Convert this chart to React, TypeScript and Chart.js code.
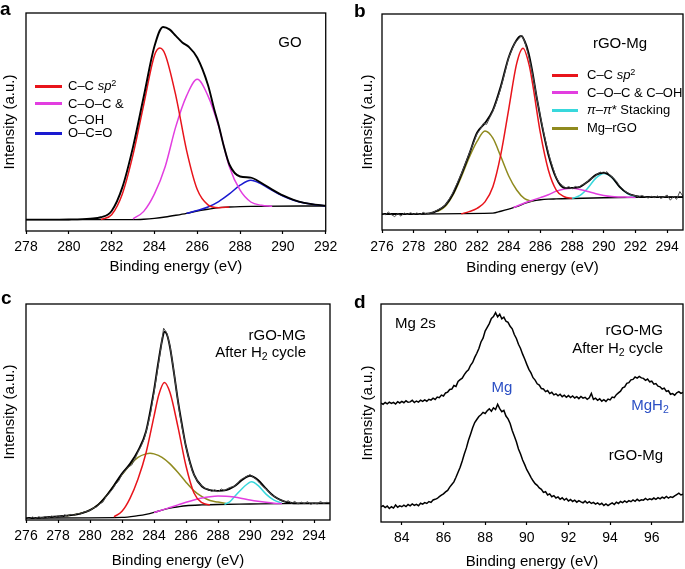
import React, { useEffect, useRef } from 'react';
import { Chart, registerables } from 'chart.js';
Chart.register(...registerables);

const FONT = '"Liberation Sans", Arial, Helvetica, sans-serif';
Chart.defaults.font.family = FONT;

// ---------- colours ----------
const RED = '#e8141b';
const MAGENTA = '#e23ee0';
const BLUE = '#1a1ad0';
const CYAN = '#38d8dc';
const OLIVE = '#8f8a1e';
const LABEL_BLUE = '#2b4fc4';

// ---------- tick labels ----------
const A_TICKS = [278, 280, 282, 284, 286, 288, 290, 292];
const BC_TICKS = [276, 278, 280, 282, 284, 286, 288, 290, 292, 294];
const D_TICKS = [84, 86, 88, 90, 92, 94, 96];

// ---------- panel a (GO) ----------
const A_LEGEND = ['C–C sp2', 'C–O–C & C–OH', 'O–C=O'];
const A_ENV_X = [278, 279, 280, 281, 281.5, 282, 282.5, 283, 283.5, 284, 284.4, 284.7, 285, 285.3, 285.6, 286, 286.5, 286.8, 287, 287.25, 287.5, 288, 288.5, 289, 289.5, 290, 290.5, 291, 291.5, 292];
const A_ENV_Y = [5.2, 5.2, 5.3, 5.7, 6.3, 9.2, 20, 38.6, 61.7, 84.7, 93.6, 92.5, 89.5, 86.5, 84.5, 79.5, 67, 55.5, 48.5, 38.5, 30.5, 25, 24.5, 22.0, 19, 16.3, 14.3, 12.9, 12.1, 11.6];
const A_BG_X = [278, 283, 283.5, 284, 284.5, 285, 285.5, 286, 286.5, 287, 287.5, 288, 288.5, 292];
const A_BG_Y = [5.2, 5.2, 5.4, 5.8, 6.4, 7.2, 8.1, 9.2, 10.0, 10.7, 11.0, 11.2, 11.3, 11.5];
const A_RED_X = [281.5, 282, 282.5, 283, 283.5, 284, 284.25, 284.5, 285, 285.5, 286, 286.5, 287, 287.5];
const A_RED_Y = [5.3, 7.5, 17, 35, 58, 80.5, 83.9, 81, 62, 37, 19, 12, 10.7, 11.0];
const A_MAG_X = [283, 283.5, 284, 284.5, 285, 285.5, 286, 286.5, 287, 287.5, 288, 288.5, 289, 289.5];
const A_MAG_Y = [5.6, 9, 17, 29.5, 48, 62, 69.6, 62, 48, 29.5, 18.7, 13.3, 11.8, 11.3];
const A_BLUE_X = [285.5, 286, 286.5, 287, 287.5, 288, 288.5, 289, 289.5, 290, 290.5, 291, 291.5, 292];
const A_BLUE_Y = [8.1, 9.4, 11, 13.5, 17, 21, 23.3, 21.5, 18.6, 16, 14.1, 12.8, 12, 11.5];

// ---------- panel b (rGO-Mg) ----------
const B_LEGEND = ['C–C sp2', 'C–O–C & C–OH', 'π–π* Stacking', 'Mg–rGO'];
const B_RAW_START = 276;
const B_RAW_STEP = 0.2;
const B_RAW = [
  7.8, 7.0, 8.3, 7.1, 6.2,
  7.6, 6.4, 7.9, 7.2, 8.0,
  7.3, 7.9, 7.1, 8.2, 7.4,
  7.8, 8.1, 8.9, 9.6, 10.4,
  11.6, 13.8, 16.2, 19.4, 22.6,
  25.8, 29.6, 33.4, 37.2, 40.8,
  44.6, 46.5, 49.4, 48.9, 52.0,
  55.0, 58.8, 63.2, 68.4, 74.2,
  80.0, 83.4, 86.9, 88.2, 90.2,
  87.5, 82.0, 75.8, 68.4, 60.2,
  52.6, 45.4, 38.9, 33.2, 28.6,
  24.3, 21.8, 20.6, 19.5, 20.1,
  19.0, 20.2, 19.6, 20.8, 21.4,
  22.6, 23.8, 24.4, 26.0, 26.8,
  26.2, 27.0, 25.2, 24.1, 22.6,
  20.4, 19.0, 17.6, 16.9, 16.0,
  15.9, 15.2, 16.0, 15.4, 14.8,
  15.6, 15.0, 15.8, 14.6, 15.3,
  16.2, 13.8, 15.5, 14.2, 17.8,
  15.6,
];
const B_ENV_X = [276, 278, 279, 279.5, 280, 280.5, 281, 281.5, 282, 282.5, 283, 283.5, 284, 284.5, 284.8, 285, 285.25, 285.5, 285.75, 286, 286.25, 286.5, 287, 287.5, 288, 288.5, 289, 289.5, 290, 290.5, 291, 291.5, 292, 292.5, 295];
const B_ENV_Y = [7.4, 7.4, 7.7, 9, 11.5, 17, 25.5, 35, 45, 49.5, 55.5, 66.5, 80, 88, 89.8, 87.5, 82, 73, 62, 52, 43, 35, 24, 19.5, 19.5, 20, 22.5, 25.5, 26.5, 24.5, 20, 17, 15.8, 15.3, 15.2];
const B_BG_X = [276, 283, 283.5, 284, 284.5, 285, 285.5, 286, 286.5, 287, 288, 290, 292, 295];
const B_BG_Y = [7.4, 7.8, 8.7, 9.7, 10.8, 12.3, 13.4, 14.0, 14.3, 14.4, 14.6, 14.9, 15.1, 15.2];
const B_RED_X = [281, 281.5, 282, 282.5, 283, 283.5, 284, 284.5, 284.9, 285.3, 285.5, 286, 286.5, 287, 287.5, 288];
const B_RED_Y = [7.5, 8.5, 10, 13, 20, 35, 56, 77, 84.1, 76, 68, 44.8, 27.8, 18.5, 15.4, 14.6];
const B_MAG_X = [284.3, 285, 285.5, 286, 286.5, 287, 287.5, 288, 288.5, 289, 289.5, 290, 290.5, 291, 291.5, 292];
const B_MAG_Y = [10.4, 12.5, 13.8, 15, 16.3, 18, 19, 19.3, 18.8, 17.8, 16.8, 16, 15.5, 15.3, 15.2, 15.1];
const B_CYAN_X = [288, 288.5, 289, 289.5, 290, 290.5, 291, 291.5, 292];
const B_CYAN_Y = [14.6, 16, 19.5, 24, 26.2, 24.5, 20, 16.8, 15.3];
const B_OLIVE_X = [279.5, 280, 280.5, 281, 281.5, 282, 282.5, 283, 283.5, 284, 284.5, 285, 285.5];
const B_OLIVE_Y = [8.5, 11, 16.5, 24.5, 33.5, 41, 45.8, 42.5, 34, 25, 18.5, 14.5, 13.3];

// ---------- panel c (rGO-MG after H2 cycle) ----------
const C_RAW_START = 276;
const C_RAW_STEP = 0.2;
const C_RAW = [
  1.2, 0.6, 1.4, 0.8, 1.5,
  0.9, 1.6, 1.0, 1.8, 1.2,
  1.9, 1.4, 2.4, 1.8, 2.6,
  2.2, 3.0, 2.8, 3.6, 4.0,
  4.4, 5.6, 6.0, 7.4, 8.2,
  10.8, 12.4, 14.1, 16.5, 18.2,
  21.0, 22.8, 24.6, 25.4, 28.0,
  31.5, 34.2, 37.8, 43.5, 50.0,
  59.0, 68.5, 78.0, 88.8, 86.6,
  80.5, 71.0, 60.0, 49.5, 41.0,
  34.0, 27.5, 22.5, 19.5, 17.0,
  15.8, 14.6, 14.2, 13.2, 14.0,
  13.0, 14.4, 13.6, 14.6, 15.2,
  15.6, 16.8, 18.6, 19.4, 20.2,
  21.0, 19.8, 18.8, 17.0, 15.6,
  14.4, 12.8, 11.4, 10.6, 9.4,
  9.2, 8.4, 8.9, 7.8, 8.6,
  7.4, 8.3, 7.6, 8.5, 7.2,
  8.0, 7.4, 8.6, 7.7, 8.2,
  7.9,
];
const C_ENV_X = [276, 277, 278, 278.5, 279, 279.5, 280, 280.5, 281, 281.5, 282, 282.5, 283, 283.5, 284, 284.25, 284.5, 284.65, 284.8, 285, 285.25, 285.5, 285.75, 286, 286.5, 287, 287.5, 288, 288.5, 289, 289.5, 290, 290.5, 291, 291.5, 292, 292.5, 293, 295];
const C_ENV_Y = [0.9, 1.1, 1.6, 2.0, 2.4, 3.2, 4.6, 7, 11, 16, 21.5, 26, 32, 41, 60, 72, 83, 87.2, 86, 80, 68, 55, 44, 34, 21, 15.5, 13.8, 13.5, 13.8, 15.5, 18.5, 20.5, 18.5, 14.5, 11, 9, 8, 7.7, 7.7];
const C_BG_X = [276, 282, 283, 283.5, 284, 284.5, 285, 285.5, 286, 287, 288, 290, 292, 295];
const C_BG_Y = [0.9, 1.2, 2.0, 2.6, 3.5, 4.6, 5.5, 6.1, 6.6, 7.0, 7.2, 7.4, 7.6, 7.7];
const C_RED_X = [281.5, 282, 282.5, 283, 283.5, 284, 284.3, 284.65, 285, 285.5, 286, 286.5, 287, 287.5];
const C_RED_Y = [1.5, 4, 10, 19, 31, 48, 58, 63.7, 59, 43, 25, 12.5, 8, 7];
const C_MAG_X = [284, 284.5, 285, 285.5, 286, 286.5, 287, 287.5, 288, 288.5, 289, 289.5, 290, 290.5, 291, 291.5, 292];
const C_MAG_Y = [3.5, 4.6, 5.8, 7, 8.2, 9.3, 10.2, 10.8, 11.1, 11, 10.6, 10, 9.3, 8.7, 8.2, 7.8, 7.6];
const C_CYAN_X = [288.4, 288.75, 289, 289.5, 290, 290.1, 290.5, 291, 291.5, 292];
const C_CYAN_Y = [7.3, 8.5, 10.5, 14.5, 17.5, 17.7, 16, 12, 9.2, 7.8];
const C_OLIVE_X = [278.5, 279, 279.5, 280, 280.5, 281, 281.5, 282, 282.5, 283, 283.5, 283.75, 284, 284.5, 285, 285.5, 286, 286.5, 287, 287.5, 288, 288.5];
const C_OLIVE_Y = [2.0, 2.4, 3.2, 4.6, 7, 11, 16, 21, 25.5, 29, 30.6, 30.9, 30.6, 29, 26, 22, 17.5, 13.5, 10.8, 9, 8.3, 7.6];

// ---------- panel d (Mg 2s) ----------
const D_START = 83;
const D_STEP = 0.1;
const D_AFTER_H2 = [
  54.5, 54.0, 54.8, 54.2, 55.0, 54.4, 54.9, 54.1, 55.2, 54.6,
  55.3, 54.7, 55.6, 54.9, 55.1, 55.8, 54.8, 55.5, 55.0, 55.9,
  55.3, 56.0, 55.4, 56.3, 55.9, 56.8, 56.2, 57.3, 57.0, 58.2,
  57.8, 59.2, 59.6, 60.8, 61.0, 62.6, 62.2, 64.5, 65.3, 66.0,
  67.6, 68.9, 69.8, 71.9, 73.2, 75.5, 77.4, 79.6, 82.6, 84.3,
  87.6, 89.3, 91.0, 93.4, 94.2, 96.0, 94.1, 95.3, 93.2, 94.0,
  92.1, 91.6, 89.8, 88.6, 86.0, 84.2, 81.5, 79.6, 77.0, 74.8,
  72.3, 70.0, 68.4, 66.2, 65.1, 63.4, 62.8, 61.2, 61.0, 59.8,
  60.3, 58.9, 59.5, 58.3, 58.8, 57.9, 58.6, 57.5, 58.2, 57.2,
  58.0, 57.1, 57.8, 56.9, 57.5, 56.6, 57.6, 56.8, 57.2, 56.3,
  57.0, 59.0, 56.2, 56.8, 55.8, 56.5, 55.4, 56.1, 55.3, 56.4,
  56.0, 57.3, 57.0, 58.4, 59.2, 60.0, 61.5, 62.0, 63.6, 63.9,
  65.2, 65.4, 66.5, 66.0, 66.8, 66.1, 65.9, 65.0, 65.6, 64.3,
  64.6, 63.2, 63.5, 62.3, 62.0, 61.0, 61.4, 59.9, 60.2, 58.6,
  58.9, 58.2, 59.3, 59.8, 59.0, 59.4,
];
const D_RGO_MG = [
  6.9, 7.5, 6.6, 7.3, 6.2, 7.0, 6.4, 7.8, 6.8, 7.4,
  7.0, 7.7, 7.1, 8.0, 7.4, 8.3, 7.6, 8.1, 7.5, 8.6,
  8.2, 8.9, 8.5, 9.4, 9.0, 10.1, 10.4, 10.8, 11.6, 12.3,
  12.9, 13.8, 14.5, 16.0, 17.2, 18.4, 20.5, 22.8, 25.1, 28.0,
  31.2, 34.0, 37.5, 40.3, 43.2, 45.6, 47.0, 48.4, 49.2, 50.3,
  49.8, 51.0, 51.9, 50.8, 52.4, 51.6, 54.0, 52.0, 50.6, 51.2,
  48.6, 47.3, 45.2, 42.0, 39.4, 36.8, 33.5, 31.2, 28.4, 26.3,
  24.0, 22.3, 20.5, 18.9, 17.6, 16.8, 15.6, 15.0, 13.6, 13.9,
  12.4, 12.9, 11.6, 12.1, 11.0, 11.5, 10.4, 11.1, 10.1, 10.8,
  9.6, 10.3, 9.4, 10.0, 9.1, 9.8, 9.2, 8.8, 9.6, 8.7,
  9.3, 8.5, 9.0, 8.2, 8.8, 8.0, 8.6, 7.6, 8.3, 7.5,
  8.2, 8.8, 8.0, 9.1, 8.5, 9.4, 8.9, 9.7, 9.0, 9.8,
  9.3, 10.1, 9.5, 10.4, 9.7, 10.2, 10.0, 10.8, 10.1, 10.6,
  10.3, 11.0, 10.4, 11.2, 10.6, 11.4, 10.9, 11.7, 11.0, 11.6,
  11.3, 12.0, 12.6, 13.2, 12.4, 12.8,
];

// ---------- helpers ----------
const pts = (xs: number[], ys: number[]) => xs.map((x, i) => ({ x, y: ys[i] }));
const onGrid = (start: number, step: number, ys: number[]) =>
  ys.map((y, i) => ({ x: Math.round((start + i * step) * 100) / 100, y }));

const fit = (label: string, data: any[], color: string, width = 1.5) => ({
  label, data, borderColor: color, borderWidth: width, pointRadius: 0,
  fill: false, cubicInterpolationMode: 'monotone' as const, tension: 0.4,
});
const raw = (label: string, data: any[], color = '#666', width = 0.8) => ({
  label, data, borderColor: color, borderWidth: width, pointRadius: 0, fill: false, tension: 0,
});

const boxPlugin = {
  id: 'frameBox',
  afterDatasetsDraw(chart: any) {
    const { ctx, chartArea: a } = chart;
    ctx.save();
    ctx.strokeStyle = '#000';
    ctx.lineWidth = 1.3;
    ctx.strokeRect(a.left, a.top, a.right - a.left, a.bottom - a.top);
    ctx.restore();
  },
};

type Panel = {
  left: number; top: number; width: number; height: number;
  area: { l: number; t: number; r: number; b: number };
  xMin: number; xMax: number; ticks: number[];
  tickPad: number; xTitlePad: number; yTitlePad: number;
  datasets: any[];
};

const PANELS: Panel[] = [
  {
    left: 0, top: 0, width: 342, height: 284, area: { l: 26, t: 13, r: 329, b: 231 },
    xMin: 278, xMax: 292, ticks: A_TICKS, tickPad: 4.6, xTitlePad: 9.5, yTitlePad: 2.5,
    datasets: [
      fit('Envelope', pts(A_ENV_X, A_ENV_Y), '#000', 1.9),
      fit(A_LEGEND[0], pts(A_RED_X, A_RED_Y), RED),
      fit(A_LEGEND[1], pts(A_MAG_X, A_MAG_Y), MAGENTA),
      fit(A_LEGEND[2], pts(A_BLUE_X, A_BLUE_Y), BLUE),
      fit('Background', pts(A_BG_X, A_BG_Y), '#000', 1.4),
    ],
  },
  {
    left: 342, top: 0, width: 343, height: 284, area: { l: 40, t: 14, r: 341, b: 230 },
    xMin: 276, xMax: 295, ticks: BC_TICKS, tickPad: 5.6, xTitlePad: 8.5, yTitlePad: 18.8,
    datasets: [
      raw('Raw', onGrid(B_RAW_START, B_RAW_STEP, B_RAW), '#4a4a4a', 1),
      fit('Envelope', pts(B_ENV_X, B_ENV_Y), '#000', 1.9),
      fit(B_LEGEND[0], pts(B_RED_X, B_RED_Y), RED),
      fit(B_LEGEND[1], pts(B_MAG_X, B_MAG_Y), MAGENTA),
      fit(B_LEGEND[2], pts(B_CYAN_X, B_CYAN_Y), CYAN),
      fit(B_LEGEND[3], pts(B_OLIVE_X, B_OLIVE_Y), OLIVE),
      fit('Background', pts(B_BG_X, B_BG_Y), '#000', 1.4),
    ],
  },
  {
    left: 0, top: 284, width: 342, height: 285, area: { l: 26, t: 20, r: 330, b: 236 },
    xMin: 276, xMax: 295, ticks: BC_TICKS, tickPad: 4.3, xTitlePad: 0.5, yTitlePad: 2.5,
    datasets: [
      raw('Raw', onGrid(C_RAW_START, C_RAW_STEP, C_RAW), '#4a4a4a', 1),
      fit('Envelope', pts(C_ENV_X, C_ENV_Y), '#000', 1.9),
      fit(B_LEGEND[0], pts(C_RED_X, C_RED_Y), RED),
      fit(B_LEGEND[1], pts(C_MAG_X, C_MAG_Y), MAGENTA),
      fit(B_LEGEND[2], pts(C_CYAN_X, C_CYAN_Y), CYAN),
      fit(B_LEGEND[3], pts(C_OLIVE_X, C_OLIVE_Y), OLIVE),
      fit('Background', pts(C_BG_X, C_BG_Y), '#000', 1.4),
    ],
  },
  {
    left: 342, top: 284, width: 343, height: 285, area: { l: 39, t: 20, r: 341, b: 238 },
    xMin: 83, xMax: 97.5, ticks: D_TICKS, tickPad: 4.3, xTitlePad: -0.2, yTitlePad: 18.5,
    datasets: [
      raw('rGO-MG After H2 cycle', onGrid(D_START, D_STEP, D_AFTER_H2), '#000', 1.5),
      raw('rGO-Mg', onGrid(D_START, D_STEP, D_RGO_MG), '#000', 1.5),
    ],
  },
];

function PanelChart({ p }: { p: Panel }) {
  const ref = useRef<HTMLCanvasElement>(null);
  useEffect(() => {
    const chart = new Chart(ref.current as HTMLCanvasElement, {
      type: 'line',
      data: { datasets: p.datasets },
      options: {
        responsive: false,
        maintainAspectRatio: false,
        animation: false,
        layout: { padding: { left: 0, top: p.area.t, right: p.width - p.area.r, bottom: 0 } },
        plugins: { legend: { display: false }, tooltip: { enabled: false } },
        scales: {
          x: {
            type: 'linear', min: p.xMin, max: p.xMax,
            afterFit: (s: any) => { s.height = p.height - p.area.b; },
            afterBuildTicks: (s: any) => { s.ticks = p.ticks.map((v) => ({ value: v })); },
            ticks: { color: '#000', font: { size: 14, family: FONT }, padding: p.tickPad, maxRotation: 0, autoSkip: false },
            grid: { display: true, drawOnChartArea: false, drawTicks: true, tickLength: 3, tickColor: '#000', tickWidth: 1.2 },
            border: { display: false },
            title: { display: true, text: 'Binding energy (eV)', color: '#000', font: { size: 15, family: FONT, lineHeight: 1 }, padding: { top: 0, bottom: p.xTitlePad } },
          },
          y: {
            type: 'linear', min: 0, max: 100,
            afterFit: (s: any) => { s.width = p.area.l; },
            ticks: { display: false },
            grid: { display: false },
            border: { display: false },
            title: { display: true, text: 'Intensity (a.u.)', color: '#000', font: { size: 15, family: FONT, lineHeight: 1 }, padding: { top: p.yTitlePad, bottom: 0 } },
          },
        },
      } as any,
      plugins: [boxPlugin],
    });
    return () => chart.destroy();
  }, []);
  return (
    <canvas ref={ref} width={p.width} height={p.height}
      style={{ position: 'absolute', left: p.left, top: p.top, width: p.width, height: p.height }} />
  );
}

type TxtProps = { x: number; y: number; anchor?: 'left' | 'right' | 'center'; size?: number; color?: string; bold?: boolean; children: React.ReactNode };
function Txt({ x, y, anchor = 'left', size = 15, color = '#000', bold = false, children }: TxtProps) {
  const lh = Math.round(size * 1.2);
  const style: React.CSSProperties = {
    position: 'absolute', top: y - lh / 2, fontSize: size, lineHeight: `${lh}px`, color,
    fontWeight: bold ? 700 : 400, fontFamily: FONT, whiteSpace: 'nowrap',
  };
  if (anchor === 'left') style.left = x;
  else if (anchor === 'right') { style.left = x; style.transform = 'translateX(-100%)'; }
  else { style.left = x; style.transform = 'translateX(-50%)'; }
  return <div style={style}>{children}</div>;
}

const Sub = ({ children }: { children: React.ReactNode }) => (
  <span style={{ fontSize: '0.7em', position: 'relative', top: '0.3em' }}>{children}</span>
);
const Sup = ({ children }: { children: React.ReactNode }) => (
  <span style={{ fontSize: '0.7em', position: 'relative', top: '-0.4em' }}>{children}</span>
);

function LegendLine({ x1, x2, y, color }: { x1: number; x2: number; y: number; color: string }) {
  return <div style={{ position: 'absolute', left: x1, top: y - 1.5, width: x2 - x1, height: 3, background: color }} />;
}

export default function App() {
  return (
    <div style={{ position: 'fixed', left: 0, top: 0, width: 685, height: 569, background: '#fff', overflow: 'hidden' }}>
      {PANELS.map((p, i) => <PanelChart key={i} p={p} />)}

      {/* panel letters */}
      <Txt x={0} y={8} size={19} bold>a</Txt>
      <Txt x={354} y={10} size={19} bold>b</Txt>
      <Txt x={1} y={297} size={19} bold>c</Txt>
      <Txt x={354} y={301} size={19} bold>d</Txt>

      {/* panel a */}
      <Txt x={290} y={42} anchor="center">GO</Txt>
      <LegendLine x1={35} x2={62} y={86} color={RED} />
      <LegendLine x1={35} x2={62} y={103.5} color={MAGENTA} />
      <LegendLine x1={35} x2={62} y={133.3} color={BLUE} />
      <Txt x={68} y={86} size={13}>C–C <i>sp</i><Sup>2</Sup></Txt>
      <Txt x={68} y={103.5} size={13}>C–O–C &amp;</Txt>
      <Txt x={68} y={119.5} size={13}>C–OH</Txt>
      <Txt x={68} y={133.3} size={13}>O–C=O</Txt>

      {/* panel b */}
      <Txt x={620} y={43} anchor="center">rGO-Mg</Txt>
      <LegendLine x1={552} x2={578} y={75} color={RED} />
      <LegendLine x1={552} x2={578} y={92.5} color={MAGENTA} />
      <LegendLine x1={552} x2={578} y={110} color={CYAN} />
      <LegendLine x1={552} x2={578} y={128} color={OLIVE} />
      <Txt x={587} y={75} size={13}>C–C <i>sp</i><Sup>2</Sup></Txt>
      <Txt x={587} y={92.5} size={13}>C–O–C &amp; C–OH</Txt>
      <Txt x={587} y={110} size={13}><i>π</i>–<i>π</i>* Stacking</Txt>
      <Txt x={587} y={128} size={13}>Mg–rGO</Txt>

      {/* panel c */}
      <Txt x={306} y={335} anchor="right">rGO-MG</Txt>
      <Txt x={306} y={352} anchor="right">After H<Sub>2</Sub> cycle</Txt>

      {/* panel d */}
      <Txt x={395} y={323}>Mg 2s</Txt>
      <Txt x={663} y={330} anchor="right">rGO-MG</Txt>
      <Txt x={663} y={348} anchor="right">After H<Sub>2</Sub> cycle</Txt>
      <Txt x={502} y={387} anchor="center" color={LABEL_BLUE}>Mg</Txt>
      <Txt x={650} y={405} anchor="center" color={LABEL_BLUE}>MgH<Sub>2</Sub></Txt>
      <Txt x={663} y={455} anchor="right">rGO-Mg</Txt>
    </div>
  );
}
